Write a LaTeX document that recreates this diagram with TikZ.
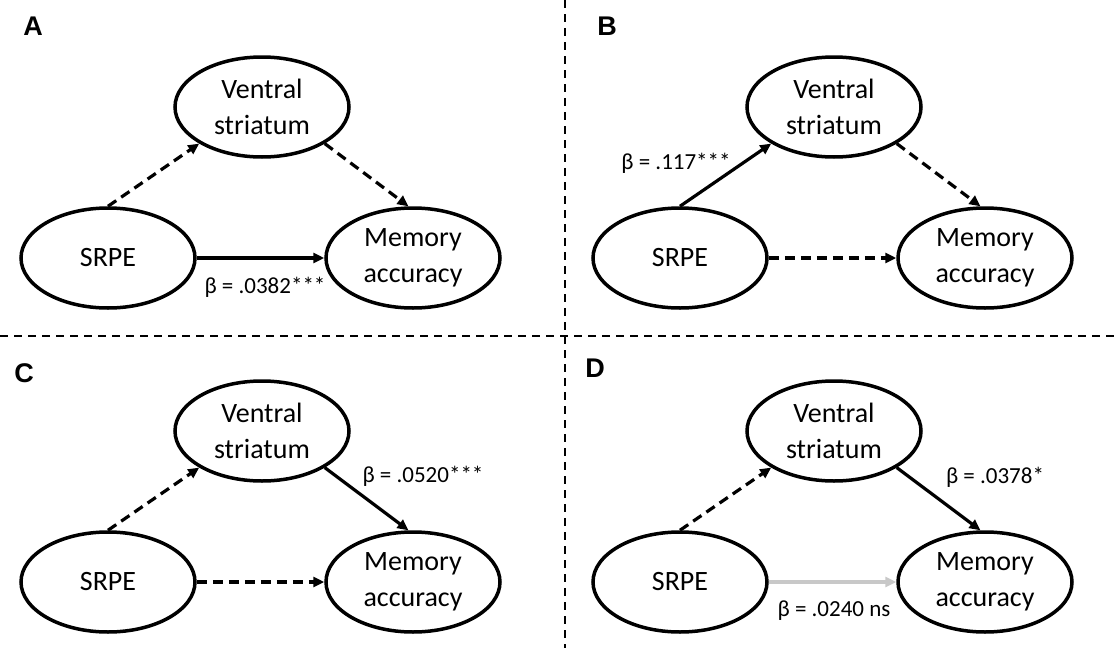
\documentclass[tikz,border=0pt]{standalone}
\usepackage{fontspec}
\setmainfont{Carlito}
\newfontfamily\panelfont{Liberation Sans}
\usetikzlibrary{arrows.meta,shapes.geometric}
\definecolor{nsgray}{RGB}{200,200,200}
\tikzset{
  var/.style={ellipse, draw, line width=3.5pt, minimum width=174pt, minimum height=100pt,
    inner sep=0pt, align=center, font=\fontsize{28}{36}\selectfont},
  link/.style={line width=3.2pt, -{Triangle[length=11pt,width=10pt]}},
  dlink/.style={link, dash pattern=on 10pt off 6pt},
  glink/.style={link, draw=nsgray, fill=nsgray},
  coef/.style={font=\fontsize{23}{26}\selectfont, inner sep=0pt},
  plabel/.style={font=\panelfont\bfseries\fontsize{27}{30}\selectfont, inner sep=0pt},
  divider/.style={line width=1.8pt, dash pattern=on 8pt off 6pt}
}
\begin{document}
\begin{tikzpicture}[x=1pt,y=-1pt]
\fill[white] (0,0) rectangle (1120,648);
\useasboundingbox (0,0) rectangle (1120,648);

% dividers
\coordinate (vtop) at (565,0);
\coordinate (vbot) at (565,648);
\coordinate (hleft) at (0,336);
\coordinate (hright) at (1120,336);
\draw[divider] (vtop) -- (vbot);
\draw[divider] (hleft) -- (hright);

% Panel A
\node[plabel] (lA) at (33,26) {A};
\node[var] (vsA) at (262,107) {Ventral\\striatum};
\node[var] (srA) at (108,258) {SRPE};
\node[var] (maA) at (413,258) {Memory\\accuracy};
\draw[dlink] (srA.north) -- (vsA.south west);
\draw[dlink] (vsA.south east) -- (maA.95);
\draw[link] (srA.east) -- (maA.west);
\node[coef] (cA) at (265,287) {β = .0382***};

% Panel B
\node[plabel] (lB) at (607,26) {B};
\node[var] (vsB) at (834,107) {Ventral\\striatum};
\node[var] (srB) at (680,258) {SRPE};
\node[var] (maB) at (985,258) {Memory\\accuracy};
\draw[link] (srB.north) -- (vsB.south west);
\draw[dlink] (vsB.south east) -- (maB.95);
\draw[dlink] (srB.east) -- (maB.west);
\node[coef] (cB) at (676,163) {β = .117***};

% Panel C
\node[plabel] (lC) at (24,373) {C};
\node[var] (vsC) at (262,431) {Ventral\\striatum};
\node[var] (srC) at (108,582) {SRPE};
\node[var] (maC) at (413,582) {Memory\\accuracy};
\draw[dlink] (srC.north) -- (vsC.south west);
\draw[link] (vsC.south east) -- (maC.95);
\draw[dlink] (srC.east) -- (maC.west);
\node[coef] (cC) at (423,476) {β = .0520***};

% Panel D
\node[plabel] (lD) at (595,368) {D};
\node[var] (vsD) at (834,431) {Ventral\\striatum};
\node[var] (srD) at (680,582) {SRPE};
\node[var] (maD) at (985,582) {Memory\\accuracy};
\draw[dlink] (srD.north) -- (vsD.south west);
\draw[link] (vsD.south east) -- (maD.95);
\draw[glink] (srD.east) -- (maD.west);
\node[coef] (cD1) at (995,477) {β = .0378*};
\node[coef] (cD2) at (834,611) {β = .0240 ns};
\end{tikzpicture}
\end{document}
